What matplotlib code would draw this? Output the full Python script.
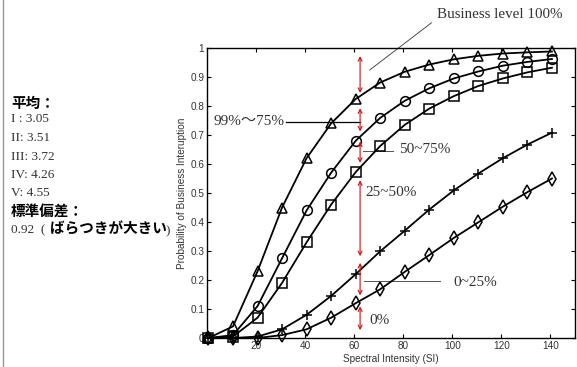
import matplotlib
matplotlib.use("Agg")
import matplotlib.pyplot as plt
from matplotlib.lines import Line2D

# ---- data ----
si = [0.6, 10.6, 20.6, 30.6, 40.6, 50.6, 60.6, 70.6, 80.6, 90.6, 100.6, 110.6, 120.6, 130.6, 140.6]
level_tri = [0.0, 0.04, 0.23, 0.45, 0.62, 0.74, 0.824, 0.881, 0.918, 0.943, 0.961, 0.973, 0.981, 0.985, 0.988]
level_circ = [0.0, 0.01, 0.11, 0.275, 0.44, 0.57, 0.68, 0.759, 0.818, 0.861, 0.895, 0.919, 0.939, 0.952, 0.962]
level_sq = [0.0, 0.005, 0.07, 0.19, 0.33, 0.46, 0.572, 0.662, 0.735, 0.791, 0.834, 0.869, 0.895, 0.916, 0.932]
level_plus = [0.0, 0.0, 0.005, 0.03, 0.08, 0.145, 0.22, 0.299, 0.370, 0.443, 0.509, 0.567, 0.620, 0.667, 0.708]
level_dia = [0.0, 0.0, 0.0, 0.01, 0.03, 0.07, 0.12, 0.168, 0.228, 0.286, 0.345, 0.399, 0.453, 0.503, 0.55]

xticks = [20, 40, 60, 80, 100, 120, 140]
yticks = [0, 0.1, 0.2, 0.3, 0.4, 0.5, 0.6, 0.7, 0.8, 0.9, 1]
ytick_labels = ["0", "0.1", "0.2", "0.3", "0.4", "0.5", "0.6", "0.7", "0.8", "0.9", "1"]

arrow_x = 62.4
arrow_spans = [(0.972, 0.845), (0.792, 0.712), (0.677, 0.604), (0.544, 0.282), (0.259, 0.147), (0.109, 0.027)]

mean_labels = ["I : 3.05", "II: 3.51", "III: 3.72", "IV: 4.26", "V: 4.55"]

W, H = 577, 367
fig = plt.figure(figsize=(W / 100, H / 100), dpi=100)
ax = fig.add_axes([207 / W, (H - 338) / H, (575 - 207) / W, (338 - 48) / H])

series = [(level_tri, "^"), (level_circ, "o"), (level_sq, "s"), (level_plus, "+"), (level_dia, "d")]
for vals, m in series:
    ms = 7.5 if m in ("^", "+") else 7
    ax.plot(si, vals, color="black", lw=1.3, marker=m, ms=ms, mfc="none", mec="black", mew=1.1,
            clip_on=False, zorder=3)

ax.set_xlim(0, 150)
ax.set_ylim(0, 1)
ax.set_xticks(xticks)
ax.set_yticks(yticks)
ax.set_yticklabels(ytick_labels)
ax.tick_params(direction="in", top=True, right=True, length=3, width=0.8,
               labelsize=7.2, labelcolor="#333333", pad=2)
for lab in ax.get_xticklabels() + ax.get_yticklabels():
    lab.set_family("Liberation Sans")
for sp in ax.spines.values():
    sp.set_linewidth(1.0)
ax.set_xlabel("Spectral Intensity (SI)", fontsize=7.2, family="Liberation Sans", color="#333333", labelpad=2)
ax.set_ylabel("Probability of Business Interuption", fontsize=7.2, family="Liberation Sans", color="#333333", labelpad=2)

# red double arrows
for y1, y2 in arrow_spans:
    ax.annotate("", xy=(arrow_x, y2), xytext=(arrow_x, y1),
                arrowprops=dict(arrowstyle="<->", color="#cc1111", lw=0.8,
                                mutation_scale=7, shrinkA=0, shrinkB=0), zorder=4)

serif = ["Liberation Serif", "Noto Sans CJK JP"]
tc = "#333333"
# annotation lines and labels
ax.add_line(Line2D([32.1, 62.3], [0.745, 0.745], color="black", lw=0.9, zorder=2))
ax.text(2.6, 0.748, "99%〜75%", family=serif, fontsize=11, color=tc, ha="left", va="center")
ax.add_line(Line2D([63.7, 75.8], [0.644, 0.644], color="#555555", lw=0.7))
ax.text(78.3, 0.651, "50~75%", family=serif, fontsize=11, color=tc, ha="left", va="center")
ax.text(64.5, 0.503, "25~50%", family=serif, fontsize=11, color=tc, ha="left", va="center")
ax.add_line(Line2D([64.1, 95.0], [0.196, 0.196], color="#555555", lw=0.7))
ax.text(100.3, 0.193, "0~25%", family=serif, fontsize=11, color=tc, ha="left", va="center")
ax.text(66.1, 0.059, "0%", family=serif, fontsize=11, color=tc, ha="left", va="center")
ax.add_line(Line2D([91.5, 66.3], [1.087, 0.924], color="#333333", lw=0.6, clip_on=False))
ax.text(93.8, 1.114, "Business level 100%", family=serif, fontsize=10.8, color=tc,
        ha="left", va="center", clip_on=False)

# left side texts (figure pixel coords)
def ftext(x, y, s, **kw):
    fig.text(x / W, 1 - y / H, s, ha="left", va="center", **kw)

cjk_bold = dict(family=["Noto Sans CJK JP", "DejaVu Sans"], fontweight="bold", fontsize=10.5, color="black")
ftext(11, 103, "平均：", **cjk_bold)
for i, s in enumerate(mean_labels):
    ftext(11, 119.5 + i * 18.5, s, family=serif, fontsize=9.5, color=tc)
ftext(11, 211, "標準偏差：", **cjk_bold)
ftext(11, 230, "0.92  (", family=serif, fontsize=9.5, color=tc)
ftext(50, 229, "ばらつきが大きい", **cjk_bold)
ftext(166, 231, ")", family=serif, fontsize=9.5, color=tc)

# left frame line
fig.add_artist(Line2D([2.5 / W, 2.5 / W], [0, 1], color="#999999", lw=1.0))

fig.savefig("out.png", dpi=100)
